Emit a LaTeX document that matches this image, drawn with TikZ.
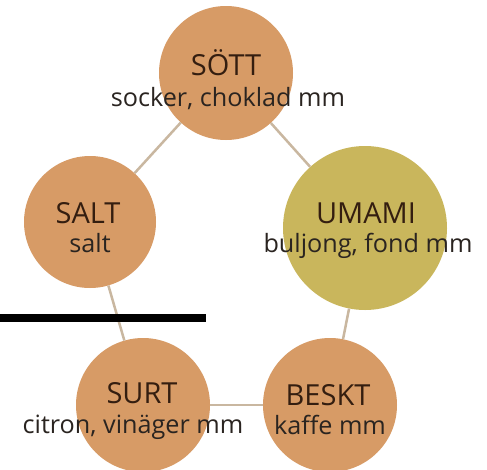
\documentclass[tikz,border=0pt]{standalone}
\usepackage{fontspec}
\setmainfont{Open Sans}
\definecolor{tastefill}{HTML}{D79B66}
\definecolor{umamifill}{HTML}{C9B65C}
\definecolor{linkcol}{HTML}{C9B7A0}
\definecolor{ttlcol}{HTML}{341E10}
\definecolor{subcol}{HTML}{2A2420}
\begin{document}
\begin{tikzpicture}[x=1pt,y=-1pt,
  taste/.style={circle, fill=tastefill, minimum size=134pt, inner sep=0pt},
  ttl/.style={font=\fontsize{29}{31}\selectfont, text=ttlcol, inner sep=0pt, anchor=base},
  subt/.style={font=\fontsize{25.2}{27}\selectfont, text=subcol, inner sep=0pt, anchor=base},
  link/.style={draw=linkcol, line width=2.5pt}]
\useasboundingbox (0,0) rectangle (487,469);
\fill[white] (0,0) rectangle (487,469);
% circles
\node[taste] (sott) at (226,73) {};
\node[taste, minimum size=132pt] (salt) at (90,222) {};
\node[taste, fill=umamifill, minimum size=164pt] (umami) at (365,228) {};
\node[taste] (surt) at (143,405) {};
\node[taste] (beskt) at (330,405) {};
% connectors
\draw[link] (sott) -- (salt);
\draw[link] (sott) -- (umami);
\draw[link] (salt) -- (surt);
\draw[link] (umami) -- (beskt);
\draw[link] (surt) -- (beskt);
% texts
\node[ttl] (sottT) at (226,75) {SÖTT};
\node[subt] (sottS) at (228,106) {socker, choklad mm};
\node[ttl] (saltT) at (88,223) {SALT};
\node[subt] (saltS) at (90,252) {salt};
\node[ttl] (umamiT) at (366,223) {UMAMI};
\node[subt] (umamiS) at (368,252) {buljong, fond mm};
\node[ttl] (surtT) at (142,403) {SURT};
\node[subt] (surtS) at (133,433) {citron, vinäger mm};
\node[ttl] (besktT) at (328,405) {BESKT};
\node[subt] (besktS) at (330,434) {kaffe mm};
% black bar
\fill[black] (0,314) rectangle (206,322);
\end{tikzpicture}
\end{document}
